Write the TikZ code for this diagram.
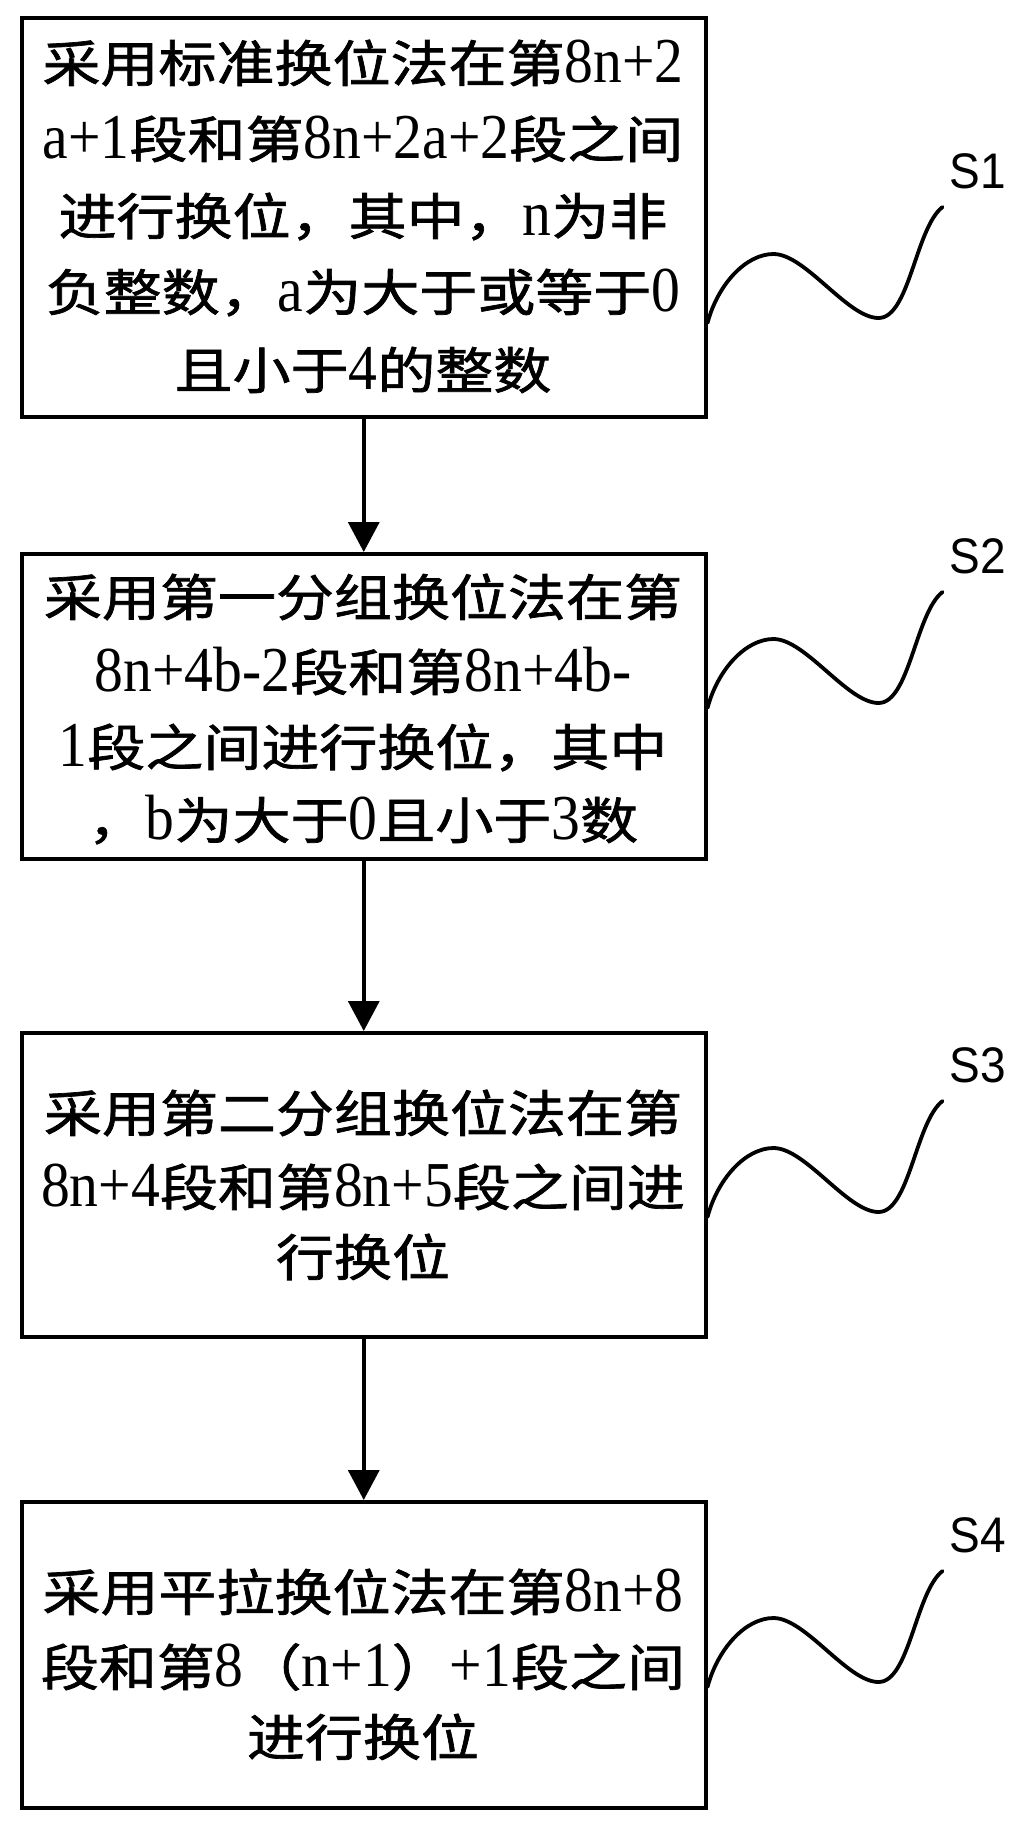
\documentclass[tikz,border=0pt]{standalone}
\usepackage{fontspec}
\usetikzlibrary{arrows.meta}
\newfontfamily\cjkf{Noto Sans CJK SC}[FakeStretch=1.16, FakeBold=1.4]
\newfontfamily\latf{Liberation Serif}[FakeStretch=0.9]
\newfontfamily\labf{Liberation Sans}[FakeStretch=0.92]
% character-by-character font switching (CJK vs Latin)
\def\JJend{\JJend}
\def\Jch#1{\ifnum`#1>"2E7F {\cjkf\fontsize{50}{60}\selectfont #1}\else{\latf\fontsize{64}{70}\selectfont #1}\fi}
\def\Jnext#1{\ifx#1\JJend\else\Jch{#1}\expandafter\Jnext\fi}
\newcommand\TL[1]{\Jnext#1\JJend}
\begin{document}
\begin{tikzpicture}[x=1pt,y=-1pt,
  box/.style={draw, line width=3.5pt, minimum width=684pt, inner sep=0pt, anchor=north west},
  txt/.style={anchor=base, inner sep=0pt},
  arr/.style={line width=3.5pt, -{Triangle[length=30pt,width=31pt]}},
  wave/.style={line width=3.8pt, line cap=round},
  lab/.style={font=\labf\fontsize{50}{55}\selectfont, inner sep=0pt}]
\useasboundingbox (0,0) rectangle (1020,1829);

% boxes
\node[box, minimum height=399pt] (b1) at (20,16) {};
\node[box, minimum height=305pt] (b2) at (20,552) {};
\node[box, minimum height=304pt] (b3) at (20,1031) {};
\node[box, minimum height=306pt] (b4) at (20,1500) {};

% texts box 1
\node[txt] (t11) at (363,82)  {\TL{采用标准换位法在第8n+2}};
\node[txt] (t12) at (363,158) {\TL{a+1段和第8n+2a+2段之间}};
\node[txt] (t13) at (363,235) {\TL{进行换位，其中，n为非}};
\node[txt] (t14) at (363,311) {\TL{负整数，a为大于或等于0}};
\node[txt] (t15) at (363,389) {\TL{且小于4的整数}};
% texts box 2
\node[txt] (t21) at (363,616) {\TL{采用第一分组换位法在第}};
\node[txt] (t22) at (363,691) {\TL{8n+4b-2段和第8n+4b-}};
\node[txt] (t23) at (363,766) {\TL{1段之间进行换位，其中}};
\node[txt] (t24) at (363,839) {\TL{，b为大于0且小于3数}};
% texts box 3
\node[txt] (t31) at (363,1132) {\TL{采用第二分组换位法在第}};
\node[txt] (t32) at (363,1206) {\TL{8n+4段和第8n+5段之间进}};
\node[txt] (t33) at (363,1276) {\TL{行换位}};
% texts box 4
\node[txt] (t41) at (363,1611) {\TL{采用平拉换位法在第8n+8}};
\node[txt] (t42) at (363,1686) {\TL{段和第8（n+1）+1段之间}};
\node[txt] (t43) at (363,1756) {\TL{进行换位}};

% arrows
\draw[arr] (b1.south) -- (b2.north);
\draw[arr] (b2.south) -- (b3.north);
\draw[arr] (b3.south) -- (b4.north);

% wavy leaders and labels
\coordinate (w1) at (b1.east |- 0,323);
\coordinate (w2) at (b2.east |- 0,708);
\coordinate (w3) at (b3.east |- 0,1217);
\coordinate (w4) at (b4.east |- 0,1687);
\foreach \i in {1,2,3,4}{
  \draw[wave, shift={(w\i)}] (w\i) .. controls (10,-38) and (38,-69) .. (66,-69)
     .. controls (98,-69) and (140,-5) .. (171,-5)
     .. controls (202,-5) and (208,-95) .. (235,-116);
}
\node[lab] (s1) at ([shift={(270,-152)}]w1) {S1};
\node[lab] (s2) at ([shift={(270,-152)}]w2) {S2};
\node[lab] (s3) at ([shift={(270,-152)}]w3) {S3};
\node[lab] (s4) at ([shift={(270,-152)}]w4) {S4};
\end{tikzpicture}
\end{document}
